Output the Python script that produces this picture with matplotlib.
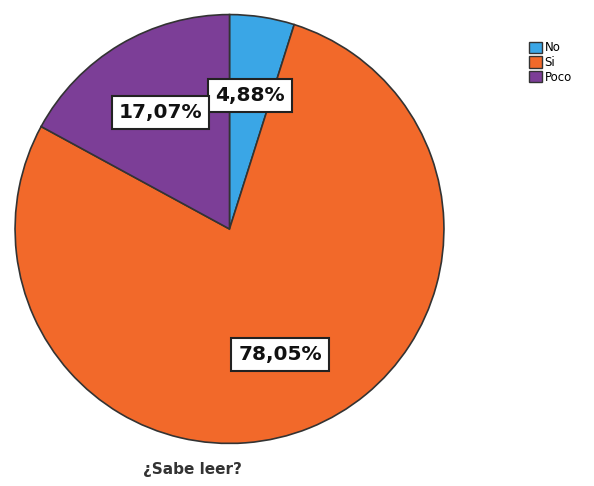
import matplotlib
matplotlib.use("Agg")
import matplotlib.pyplot as plt
from matplotlib.patches import Patch

categories = ["No", "Si", "Poco"]
values = [4.88, 78.05, 17.07]
colors = ["#3AA6E6", "#F2692A", "#7C3E97"]
title = "¿Sabe leer?"

fig = plt.figure(figsize=(5.94, 4.86), dpi=100)
fig.patch.set_facecolor("white")
W, H = 594, 486
ax = fig.add_axes([14 / W, (H - 445) / H, 431 / W, 432 / H])

def fmt(p):
    return f"{p:.2f}%".replace(".", ",")

wedges, texts, autotexts = ax.pie(
    values, colors=colors, startangle=90, counterclock=False,
    autopct=fmt, pctdistance=0.63,
    wedgeprops=dict(edgecolor="#333333", linewidth=1.2),
)
for t in autotexts:
    t.set_fontsize(14.5)
    t.set_fontweight("bold")
    t.set_color("#111111")
    t.set_bbox(dict(boxstyle="square,pad=0.35", facecolor="white", edgecolor="#222222", linewidth=1.5))
ax.set_xlim(-1.005, 1.005)
ax.set_ylim(-1.005, 1.005)
ax.set_aspect("equal")

handles = [Patch(facecolor=c, edgecolor="#333333", label=l) for c, l in zip(colors, categories)]
fig.legend(handles=handles, loc="upper left", bbox_to_anchor=(521 / W, 1 - 33 / H),
           frameon=False, fontsize=8.5, handlelength=1.1, handleheight=1.1,
           handletextpad=0.2, labelspacing=0.15, borderpad=0.2)

fig.text(192 / W, 1 - 469 / H, title, ha="center", va="center",
         fontsize=11, fontweight="bold", color="#333333")

fig.savefig("out.png", dpi=100, facecolor="white")
